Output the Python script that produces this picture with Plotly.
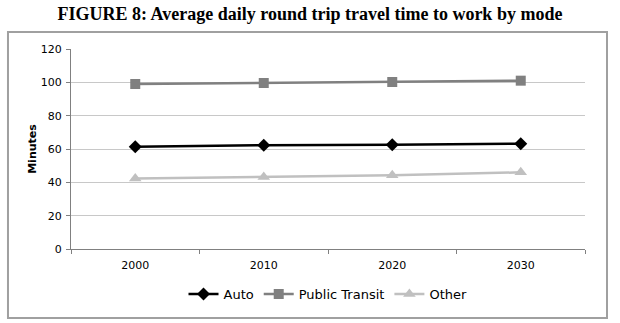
import plotly.graph_objects as go

years = ["2000", "2010", "2020", "2030"]
auto = [61.3, 62.3, 62.6, 63.2]
transit = [99.0, 99.6, 100.2, 101.0]
other = [42.3, 43.2, 44.2, 46.0]
y_ticks = [0, 20, 40, 60, 80, 100, 120]

fig = go.Figure()
fig.add_trace(go.Scatter(x=years, y=auto, name="Auto", mode="lines+markers",
                         line=dict(color="#000000", width=2.5),
                         marker=dict(symbol="diamond", size=10, color="#000000")))
fig.add_trace(go.Scatter(x=years, y=transit, name="Public Transit", mode="lines+markers",
                         line=dict(color="#808080", width=2.5),
                         marker=dict(symbol="square", size=10, color="#808080")))
fig.add_trace(go.Scatter(x=years, y=other, name="Other", mode="lines+markers",
                         line=dict(color="#C0C0C0", width=2.5),
                         marker=dict(symbol="triangle-up", size=11, color="#C0C0C0")))

fig.update_layout(
    width=620, height=323,
    margin=dict(l=71, r=35, t=49, b=74),
    paper_bgcolor="white", plot_bgcolor="white",
    title=dict(text="<b>FIGURE 8: Average daily round trip travel time to work by mode</b>",
               x=0.5, xanchor="center", y=1 - 14 / 323, yanchor="middle",
               font=dict(family="Liberation Serif", size=18, color="#000000")),
    font=dict(family="DejaVu Sans", size=11, color="#000000"),
    showlegend=True,
    legend=dict(orientation="h", x=0.5, xanchor="center", y=-0.225, yanchor="middle",
                font=dict(family="DejaVu Sans", size=13, color="#000000"),
                itemwidth=30, tracegroupgap=0),
    xaxis=dict(type="category", tickson="boundaries", ticks="outside", ticklen=4,
               tickcolor="#808080", showline=True, linecolor="#808080", linewidth=1,
               showgrid=False, range=[-0.5, 3.5], tickfont=dict(size=11),
               ticklabelstandoff=6),
    yaxis=dict(range=[0, 120], tickvals=y_ticks, ticks="outside", ticklen=4,
               tickcolor="#808080", showline=True, linecolor="#808080", linewidth=1,
               showgrid=True, gridcolor="#C8C8C8", gridwidth=1, zeroline=False,
               title=dict(text="<b>Minutes</b>", font=dict(size=11), standoff=1),
               tickfont=dict(size=11), ticklabelstandoff=2),
    shapes=[dict(type="rect", xref="paper", yref="paper",
                 x0=-0.1226, x1=1.0428, y0=-0.345, y1=1.085,
                 line=dict(color="#A0A0A0", width=2), fillcolor="rgba(0,0,0,0)", layer="below")],
)

fig.write_html("out.html")
